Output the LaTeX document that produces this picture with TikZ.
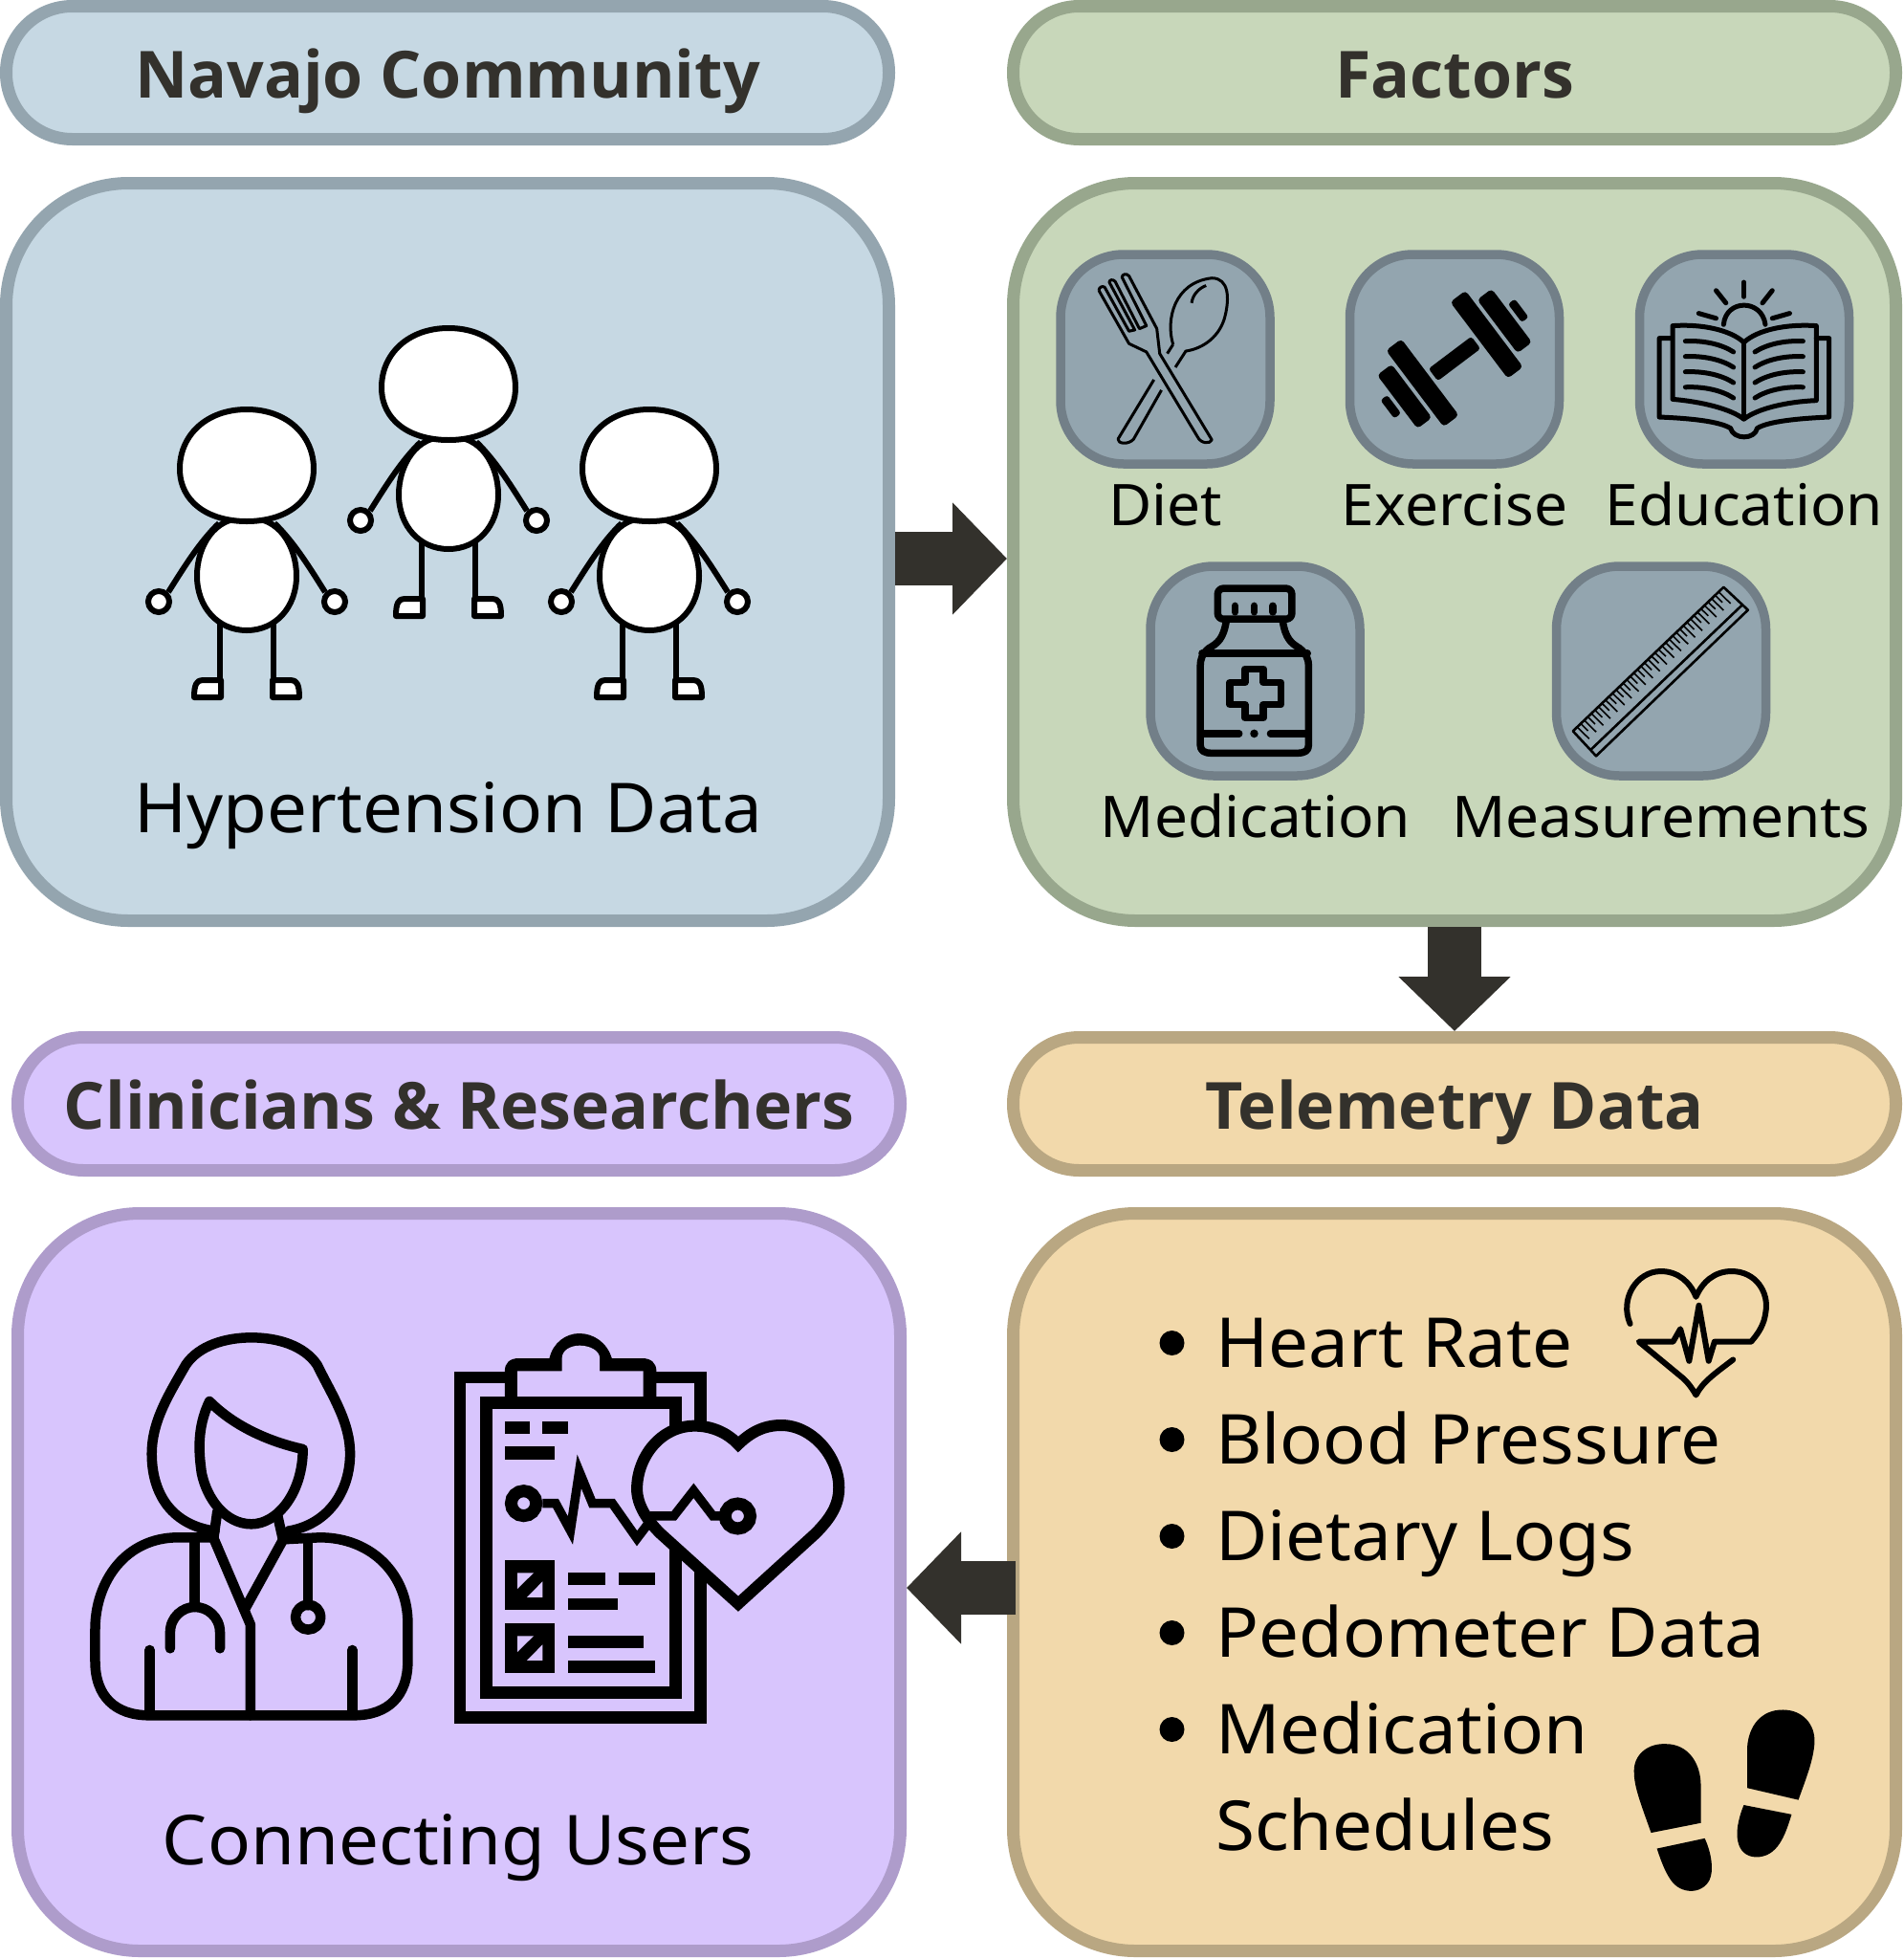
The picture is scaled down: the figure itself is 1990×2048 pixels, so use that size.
\documentclass[tikz,border=0pt]{standalone}
\usepackage{fontspec}
\setmainfont{Noto Sans}[FakeStretch=1.035]
\newfontfamily\headfont{Open Sans}[BoldFont={Open Sans Bold}]
\usetikzlibrary{arrows.meta}

\definecolor{bluefill}{HTML}{C6D8E3}
\definecolor{blueline}{HTML}{94A5AF}
\definecolor{greenfill}{HTML}{C8D7BA}
\definecolor{greenline}{HTML}{98A78D}
\definecolor{lilacfill}{HTML}{D8C5FD}
\definecolor{lilacline}{HTML}{AE9CCB}
\definecolor{tanfill}{HTML}{F2D9AB}
\definecolor{tanline}{HTML}{B9A782}
\definecolor{iconfill}{HTML}{93A5AF}
\definecolor{iconline}{HTML}{727F88}
\definecolor{darktext}{HTML}{33312C}

\tikzset{
  headbox/.style={draw, line width=13pt, rounded corners=69pt, minimum width=923pt, minimum height=139pt,
    inner sep=0pt, text=darktext, text height=52pt, text depth=0pt,
    font=\headfont\bfseries\fontsize{68}{80}\selectfont},
  mainbox/.style={draw, line width=13pt, rounded corners=128pt, minimum width=923pt, minimum height=771pt},
  iconbox/.style={draw=iconline, fill=iconfill, line width=9.5pt, rounded corners=66pt, minimum size=219pt},
  biglabel/.style={anchor=base, inner sep=0pt, font=\fontsize{72}{86}\selectfont},
  smalllabel/.style={anchor=base, inner sep=0pt, font=\fontsize{60}{72}\selectfont},
  listlabel/.style={anchor=base west, inner sep=0pt, font=\fontsize{72}{86}\selectfont},
  bigarrow/.style={draw=darktext, line width=56pt, -{Triangle[length=57pt,width=114pt]}},
  zoomb/.style={shift={(1040,230)}, xscale=.606, yscale=.4337},
  zoomc/.style={shift={(60,1370)}, xscale=.5485, yscale=.3333},
  zoomd/.style={shift={(1150,1300)}, xscale=.5102, yscale=.4464},
  person/.pic={
    \begin{scope}[draw=black, line width=6pt, fill=white]
      \draw (-29,60) .. controls (-50,80) and (-68,110) .. (-82,132);
      \draw (29,60) .. controls (50,80) and (68,110) .. (82,132);
      \draw[fill] (-92,142) circle [radius=11];
      \draw[fill] (92,142) circle [radius=11];
      \draw (-28,165) -- (-28,225);
      \draw (28,165) -- (28,225);
      \draw[fill, line join=round] (-27,242) -- (-27,224) -- (-46,224) .. controls (-52,224) and (-55,228) .. (-55,242) -- cycle;
      \draw[fill, line join=round] (27,242) -- (27,224) -- (46,224) .. controls (52,224) and (55,228) .. (55,242) -- cycle;
      \draw[fill] (0,55) .. controls (34,52) and (52,85) .. (52,115) .. controls (52,148) and (30,172) .. (0,172)
        .. controls (-30,172) and (-52,148) .. (-52,115) .. controls (-52,85) and (-34,52) .. (0,55) -- cycle;
      \draw[fill] (0,-59) .. controls (42,-59) and (70,-32) .. (70,3) .. controls (70,38) and (40,58) .. (0,58)
        .. controls (-40,58) and (-70,38) .. (-70,3) .. controls (-70,-32) and (-42,-59) .. (0,-59) -- cycle;
    \end{scope}
  }
}

\begin{document}
\begin{tikzpicture}[x=1pt, y=-1pt]
  \useasboundingbox (0,0) rectangle (1990,2048);

  \node[headbox, draw=blueline, fill=bluefill] (navajohead) at (468,76) {Navajo Community};
  \node[headbox, draw=greenline, fill=greenfill] (factorshead) at (1521,76) {Factors};
  \node[headbox, draw=lilacline, fill=lilacfill] (clinichead) at (480,1154) {Clinicians \& Researchers};
  \node[headbox, draw=tanline, fill=tanfill] (telehead) at (1521,1154) {Telemetry Data};

  \node[mainbox, draw=blueline, fill=bluefill] (navajobox) at (468,577) {};
  \node[mainbox, draw=greenline, fill=greenfill] (factorsbox) at (1521,577) {};
  \node[mainbox, draw=lilacline, fill=lilacfill] (clinicbox) at (480,1654) {};
  \node[mainbox, draw=tanline, fill=tanfill] (telebox) at (1521,1654) {};

  \draw[bigarrow] ([yshift=-7pt]navajobox.east) -- ([yshift=-7pt]factorsbox.west);
  \draw[bigarrow] (factorsbox.south) -- (telehead.north);
  \draw[bigarrow] ([xshift=9pt,yshift=-6pt]telebox.west) -- ([yshift=-6pt]clinicbox.east);

  \pic at (258,487) {person};
  \pic at (469,402) {person};
  \pic at (679,487) {person};
  \node[biglabel] (hyperlabel) at (469,870) {Hypertension Data};

  \node[iconbox] (dietbox) at (1218.5,375.5) {};
  \node[iconbox] (exercisebox) at (1521,375.5) {};
  \node[iconbox] (educationbox) at (1824,375.5) {};
  \node[iconbox] (medicationbox) at (1312.5,701.5) {};
  \node[iconbox] (measurebox) at (1737,701.5) {};

  \node[smalllabel] (dietlabel) at (1219,549) {Diet};
  \node[smalllabel] (exerciselabel) at (1521,549) {Exercise};
  \node[smalllabel] (educationlabel) at (1824,549) {Education};
  \node[smalllabel] (medicationlabel) at (1313,875) {Medication};
  \node[smalllabel] (measurelabel) at (1737,875) {Measurements};

  % fork and spoon
  \begin{scope}[zoomb, line width=3pt, line join=round]
    \draw (180,170) -- (232,298) -- (262,318) -- (350,522) .. controls (356,540) and (372,540) .. (375,530)
      -- (285,322) -- (280,262) -- (232,135) .. controls (228,128) and (220,130) .. (220,138) -- (262,255)
      -- (250,262) -- (208,148) .. controls (204,142) and (198,144) .. (198,150) -- (242,265) -- (232,268)
      -- (190,162) .. controls (186,158) and (180,162) .. (180,170);
    \draw (308,300) .. controls (295,240) and (310,150) .. (375,140) .. controls (405,140) and (405,190) .. (398,230)
      .. controls (390,280) and (360,310) .. (330,316) -- (312,355);
    \draw (308,300) -- (298,322);
    \draw (275,385) -- (213,528) .. controls (212,540) and (232,542) .. (240,528) -- (288,410);
    \draw (340,200) .. controls (342,180) and (352,165) .. (365,158);
  \end{scope}

  % dumbbell
  \begin{scope}[shift={(1521,375)}, rotate=37]
    \foreach \sgn in {1,-1}{
      \fill[rounded corners=4pt] (\sgn*32,-50) rectangle (\sgn*52,50);
      \fill[rounded corners=4pt] (\sgn*56,-35) rectangle (\sgn*75,35);
      \fill[rounded corners=3pt] (\sgn*79,-12) rectangle (\sgn*88,12);
    }
    \fill[rounded corners=3pt] (-28,-8) rectangle (28,8);
  \end{scope}

  % book
  \begin{scope}[zoomb, line width=5pt, line cap=round, line join=round]
    \draw (1258,252) .. controls (1262,190) and (1324,190) .. (1330,252);
    \draw (1293,150) -- (1293,185);
    \draw (1245,170) -- (1262,200);
    \draw (1342,170) -- (1325,200);
    \draw (1215,225) -- (1245,237);
    \draw (1372,225) -- (1342,237);
    \draw (1170,255) .. controls (1220,250) and (1270,265) .. (1293,295) .. controls (1316,265) and (1366,250) .. (1418,255)
      -- (1418,435) .. controls (1366,438) and (1316,455) .. (1293,480) .. controls (1270,455) and (1220,438) .. (1170,432) -- cycle;
    \draw (1293,295) -- (1293,480);
    \draw (1168,285) -- (1147,285) -- (1147,475) .. controls (1200,478) and (1250,485) .. (1270,502)
      .. controls (1275,530) and (1312,530) .. (1316,502) .. controls (1335,485) and (1390,478) .. (1440,475) -- (1440,285) -- (1418,285);
    \foreach \dy in {0,37,74,111}{
      \draw (1192,292+\dy) .. controls (1225,290+\dy) and (1255,300+\dy) .. (1275,318+\dy);
      \draw (1395,292+\dy) .. controls (1362,290+\dy) and (1332,300+\dy) .. (1312,318+\dy);
    }
  \end{scope}

  % bottle
  \begin{scope}[zoomb, line width=7.5pt, line cap=round, line join=round]
    \draw[rounded corners=6pt] (385,888) rectangle (513,962);
    \foreach \nx in {415,448,480}{
      \draw (\nx,930) -- (\nx,945);
    }
    \draw (400,965) .. controls (395,1010) and (385,1020) .. (370,1032) .. controls (358,1045) and (355,1060) .. (355,1075)
      -- (355,1265) .. controls (355,1280) and (362,1285) .. (375,1285) -- (522,1285) .. controls (535,1285) and (542,1280) .. (542,1265)
      -- (542,1075) .. controls (542,1060) and (538,1045) .. (526,1032) .. controls (512,1020) and (502,1010) .. (497,965);
    \draw (358,1045) -- (540,1045);
    \draw (362,1238) -- (422,1238);
    \draw (476,1238) -- (538,1238);
    \fill (448,1238) ellipse [x radius=7, y radius=10];
    \draw (432,1082) -- (464,1082) -- (464,1115) -- (494,1115) -- (494,1168) -- (464,1168) -- (464,1200) -- (432,1200) -- (432,1168) -- (406,1168) -- (406,1115) -- (432,1115) -- cycle;
  \end{scope}

  % ruler
  \begin{scope}[zoomb, line width=2.6pt, line join=round]
    \draw (1258,885) -- (1300,940) -- (1038,1292) -- (998,1232) -- cycle;
    \draw (1290,928) -- (1028,1278);
    \foreach \t in {0,...,40}{
      \pgfmathsetmacro{\tl}{ifthenelse(mod(\t,2)==0,0.5,0.3)}
      \draw[line width=1.6pt] (1006+\t*6.1,1223-\t*8.15) -- +(\tl*40,\tl*55);
    }
  \end{scope}

  \node[biglabel] (connectlabel) at (479,1949) {Connecting Users};

  % doctor
  \begin{scope}[zoomc, line width=10.5pt, line cap=round, line join=round]
    \draw (300,692) .. controls (210,670) and (180,560) .. (180,450) .. controls (180,350) and (210,270) .. (245,170)
      .. controls (270,110) and (320,85) .. (370,85) .. controls (420,85) and (470,110) .. (495,170)
      .. controls (525,270) and (558,350) .. (558,450) .. controls (558,560) and (520,670) .. (440,692);
    \draw (290,285) .. controls (265,370) and (270,450) .. (275,510) .. controls (285,590) and (320,670) .. (370,670)
      .. controls (420,670) and (468,570) .. (468,435) .. controls (400,410) and (335,360) .. (290,285) -- cycle;
    \draw (305,630) -- (298,712);
    \draw (420,645) -- (430,718);
    \draw (298,712) -- (230,712) .. controls (130,712) and (72,850) .. (72,1000) -- (72,1100) .. controls (72,1210) and (110,1270) .. (175,1270)
      -- (565,1270) .. controls (630,1270) and (668,1210) .. (668,1100) -- (668,980) .. controls (668,830) and (600,712) .. (500,712) -- (430,718);
    \draw (298,715) -- (368,985) -- (368,1270);
    \draw (430,720) -- (358,935);
    \draw (262,720) -- (262,930);
    \draw (215,1060) -- (215,1010) .. controls (215,960) and (240,930) .. (262,930) .. controls (285,930) and (310,960) .. (310,1010) -- (310,1060);
    \draw (478,720) -- (478,925);
    \draw (478,962) ellipse [x radius=24, y radius=39];
    \draw (176,1065) -- (176,1265);
    \draw (562,1065) -- (562,1265);
  \end{scope}

  % clipboard
  \begin{scope}[zoomc]
    \draw[line width=12.5pt] (768,210) rectangle (1226,1277);
    \fill (853,270) -- (853,190) .. controls (853,165) and (862,150) .. (880,150) -- (938,150) .. controls (945,100) and (970,72) .. (995,72)
      .. controls (1022,72) and (1048,100) .. (1057,150) -- (1115,150) .. controls (1132,150) and (1142,165) .. (1142,190) -- (1142,270) -- cycle;
    \fill[lilacfill] (877,270) -- (877,190) -- (962,190) -- (962,150) .. controls (962,125) and (978,110) .. (996,110)
      .. controls (1014,110) and (1034,125) .. (1034,150) -- (1034,190) -- (1117,190) -- (1117,270) -- cycle;
    \draw[line width=13pt, fill=lilacfill] (817,289) rectangle (1178,1199);
    \fill (853,348) rectangle (900,388);
    \fill (925,348) rectangle (973,388);
    \fill (853,427) rectangle (948,467);
    \foreach \dy in {0,198}{
      \fill (853,783+\dy) rectangle (948,940+\dy);
      \fill[lilacfill] (877,823+\dy) -- (908,823+\dy) -- (877,873+\dy) -- cycle;
      \fill[lilacfill] (925,850+\dy) -- (925,900+\dy) -- (895,900+\dy) -- cycle;
    }
    \fill (973,823) rectangle (1045,862);
    \fill (1070,823) rectangle (1140,862);
    \fill (973,902) rectangle (1068,940);
    \fill (973,1020) rectangle (1117,1060);
    \fill (973,1098) rectangle (1140,1138);
    \draw[line width=13pt] (889,605) ellipse [x radius=24, y radius=39];
    \draw[line width=9.5pt, miter limit=20] (925,605) -- (950,605) -- (978,690) -- (995,505) -- (1020,605) -- (1058,605) -- (1105,715) -- (1135,650);
    \draw[line width=12pt, fill=lilacfill, miter limit=20] (1298,420) .. controls (1275,380) and (1245,362) .. (1215,362)
      .. controls (1150,362) and (1105,460) .. (1105,560) .. controls (1105,610) and (1125,660) .. (1150,700) -- (1298,920) -- (1445,700)
      .. controls (1475,650) and (1490,610) .. (1490,555) .. controls (1490,460) and (1440,360) .. (1380,360) .. controls (1345,360) and (1320,385) .. (1298,420) -- cycle;
    \draw[line width=9.5pt, miter limit=20] (1130,645) -- (1175,645) -- (1213,565) -- (1250,645) -- (1268,645);
    \draw[line width=13pt] (1297,645) ellipse [x radius=24, y radius=39];
  \end{scope}

  \foreach \yy/\itemtext in {1429/Heart Rate, 1530/Blood Pressure, 1631/Dietary Logs, 1732/Pedometer Data, 1833/Medication}{
    \fill (1225.5,\yy-25) circle [radius=13];
    \node[listlabel] at (1271,\yy) {\itemtext};
  }
  \node[listlabel] (schedlabel) at (1271,1934) {Schedules};

  % heart rate
  \begin{scope}[zoomd, line width=6pt, line join=round, line cap=round]
    \draw (1087,188) .. controls (1065,130) and (1100,65) .. (1150,65) .. controls (1185,65) and (1210,90) .. (1222,125)
      .. controls (1235,90) and (1260,65) .. (1295,65) .. controls (1345,65) and (1372,115) .. (1365,160)
      .. controls (1362,190) and (1350,210) .. (1335,230) -- (1260,230) -- (1248,275) -- (1228,145) -- (1208,275) -- (1190,200) -- (1175,230) -- (1105,230)
      -- (1195,315) .. controls (1205,325) and (1215,340) .. (1222,355) .. controls (1235,325) and (1260,305) .. (1298,272);
  \end{scope}

  % footprints
  \begin{scope}[zoomd]
    \fill (1130,1380) .. controls (1105,1300) and (1095,1270) .. (1095,1235) .. controls (1095,1195) and (1125,1170) .. (1160,1172)
      .. controls (1205,1172) and (1232,1215) .. (1232,1270) -- (1232,1357) -- cycle;
    \fill (1142,1417) -- (1240,1393) .. controls (1255,1430) and (1258,1470) .. (1250,1490)
      .. controls (1235,1525) and (1190,1525) .. (1170,1490) .. controls (1158,1470) and (1150,1445) .. (1142,1417) -- cycle;
    \fill (1327,1275) -- (1327,1180) .. controls (1330,1130) and (1355,1092) .. (1400,1092)
      .. controls (1440,1092) and (1467,1125) .. (1465,1170) .. controls (1462,1215) and (1445,1260) .. (1432,1303) -- cycle;
    \fill (1320,1315) -- (1418,1337) .. controls (1405,1385) and (1390,1437) .. (1345,1437)
      .. controls (1305,1435) and (1295,1385) .. (1320,1315) -- cycle;
  \end{scope}
\end{tikzpicture}
\end{document}
